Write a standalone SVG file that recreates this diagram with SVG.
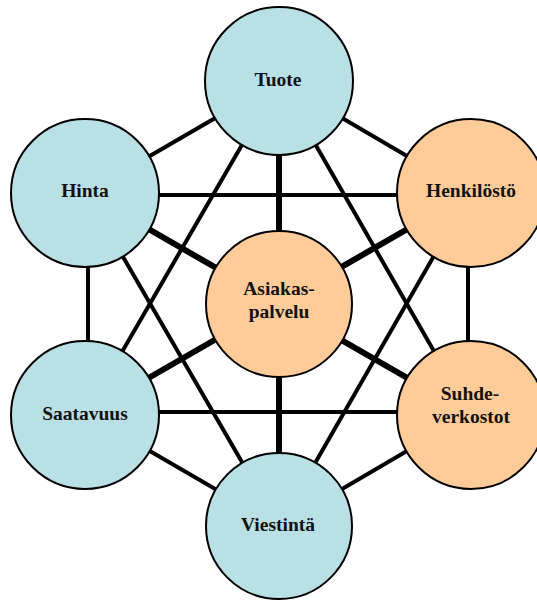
<svg xmlns="http://www.w3.org/2000/svg" width="537" height="602" viewBox="0 0 537 602">
<style>
.thin{stroke:#000;stroke-width:4;fill:none}
.thick{stroke:#000;stroke-width:6;fill:none}
.blue{fill:#b9e0e4;stroke:#000;stroke-width:2}
.orange{fill:#ffcc99;stroke:#000;stroke-width:2}
text{font-family:"Liberation Serif","Times New Roman",serif;font-weight:bold;font-size:19.5px;fill:#111;text-anchor:middle}
</style>
<rect width="537" height="602" fill="#fff"/>
<g id="connectors">
<line class="thin" x1="279" y1="81" x2="86" y2="193"/>
<line class="thin" x1="279" y1="81" x2="470" y2="193"/>
<line class="thin" x1="279" y1="81" x2="86" y2="414"/>
<line class="thin" x1="279" y1="81" x2="470" y2="414"/>
<line class="thin" x1="86" y1="195" x2="470" y2="195"/>
<line class="thin" x1="88" y1="193" x2="88" y2="414"/>
<line class="thin" x1="468" y1="193" x2="468" y2="414"/>
<line class="thin" x1="86" y1="193" x2="279" y2="526"/>
<line class="thin" x1="470" y1="193" x2="279" y2="526"/>
<line class="thin" x1="86" y1="412" x2="470" y2="412"/>
<line class="thin" x1="86" y1="414" x2="279" y2="526"/>
<line class="thin" x1="470" y1="414" x2="279" y2="526"/>
<line class="thick" x1="279" y1="81" x2="279" y2="526"/>
<line class="thick" x1="86" y1="193" x2="470" y2="414"/>
<line class="thick" x1="470" y1="193" x2="86" y2="414"/>
</g>
<g id="tuote"><circle class="blue" cx="279" cy="81" r="74"/><text x="278" y="86">Tuote</text></g>
<g id="hinta"><circle class="blue" cx="85" cy="193" r="74"/><text x="85" y="197">Hinta</text></g>
<g id="henkilosto"><circle class="orange" cx="471" cy="193" r="74"/><text x="471" y="197">Henkilöstö</text></g>
<g id="asiakaspalvelu"><circle class="orange" cx="279" cy="304" r="73"/><text x="279" y="295">Asiakas-</text><text x="279" y="318">palvelu</text></g>
<g id="saatavuus"><circle class="blue" cx="85" cy="415" r="74"/><text x="85" y="420">Saatavuus</text></g>
<g id="suhdeverkostot"><circle class="orange" cx="471" cy="415" r="74"/><text x="470" y="400">Suhde-</text><text x="471" y="423">verkostot</text></g>
<g id="viestinta"><circle class="blue" cx="279" cy="526" r="73"/><text x="278" y="531">Viestintä</text></g>
</svg>
